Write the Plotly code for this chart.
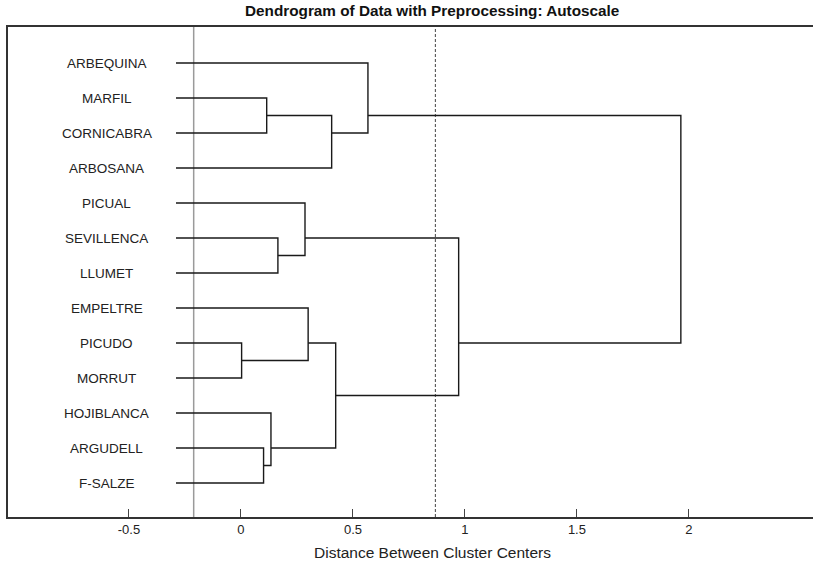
import plotly.graph_objects as go

# ---- data ----
leaves = ["ARBEQUINA", "MARFIL", "CORNICABRA", "ARBOSANA", "PICUAL", "SEVILLENCA",
          "LLUMET", "EMPELTRE", "PICUDO", "MORRUT", "HOJIBLANCA", "ARGUDELL", "F-SALZE"]
# merges: (child_a, child_b, distance); new node ids start at len(leaves)
merge_a = [8, 11, 1, 10, 5, 4, 7, 3, 19, 0, 18, 22]
merge_b = [9, 12, 2, 14, 6, 17, 13, 15, 16, 20, 21, 23]
merge_h = [0.003, 0.101, 0.115, 0.134, 0.165, 0.286, 0.300, 0.405, 0.423, 0.567, 0.972, 1.964]
leaf_start = -0.290
ref_line = -0.211
cut_line = 0.868
xticks = [-0.5, 0, 0.5, 1, 1.5, 2]
xtick_text = ["-0.5", "0", "0.5", "1", "1.5", "2"]

# ---- build dendrogram geometry ----
n = len(leaves)
pos = {}   # node -> (x, y, count)
for i in range(n):
    pos[i] = (leaf_start, i, 1)
xs, ys = [], []
for k, (a, b, h) in enumerate(zip(merge_a, merge_b, merge_h)):
    xa, ya, ca = pos[a]
    xb, yb, cb = pos[b]
    xs += [xa, h, h, xb, None]
    ys += [ya, ya, yb, yb, None]
    pos[n + k] = (h, (ya * ca + yb * cb) / (ca + cb), ca + cb)

fig = go.Figure()
fig.add_trace(go.Scatter(x=xs, y=ys, mode="lines",
                         line=dict(color="#1a1a1a", width=1.4),
                         hoverinfo="skip", showlegend=False))

ylo, yhi = -1.03, 12.97
fig.add_shape(type="line", x0=ref_line, x1=ref_line, y0=yhi, y1=ylo,
              line=dict(color="#9a9a9a", width=1.5), layer="below")
fig.add_shape(type="line", x0=cut_line, x1=cut_line, y0=yhi, y1=ylo,
              line=dict(color="#444444", width=1, dash="3px,2px"), layer="below")

for i, name in enumerate(leaves):
    fig.add_annotation(x=-0.6, y=i, text=name, showarrow=False,
                       xanchor="center", yanchor="middle",
                       font=dict(family="Liberation Sans, Arial", size=13.5, color="#222"))

fig.add_annotation(x=428 / 813, y=1, xref="paper", yref="paper", yshift=6,
                   text="<b>Dendrogram of Data with Preprocessing: Autoscale</b>",
                   showarrow=False, xanchor="center", yanchor="bottom",
                   font=dict(family="Liberation Sans, Arial", size=15.3, color="#111"))
fig.add_annotation(x=429 / 813, y=0, xref="paper", yref="paper", yshift=-25,
                   text="Distance Between Cluster Centers",
                   showarrow=False, xanchor="center", yanchor="top",
                   font=dict(family="Liberation Sans, Arial", size=15.5, color="#222"))

fig.update_layout(
    width=813, height=567,
    margin=dict(l=8, r=0, t=27, b=50),
    paper_bgcolor="white", plot_bgcolor="white",
    xaxis=dict(range=[-1.04, 2.554], tickvals=xticks, ticktext=xtick_text,
               ticks="inside", ticklen=8, tickcolor="#444", showgrid=False,
               zeroline=False, showline=True, linecolor="#333", linewidth=1.5,
               mirror=True,
               tickfont=dict(family="Liberation Sans, Arial", size=13, color="#222")),
    yaxis=dict(range=[yhi, ylo], showticklabels=False, ticks="", showgrid=False,
               zeroline=False, showline=True, linecolor="#333", linewidth=1.5),
)
fig.write_html("out.html", config={"displayModeBar": False},
               post_script="document.body.style.margin='0';document.body.style.overflow='hidden';")
